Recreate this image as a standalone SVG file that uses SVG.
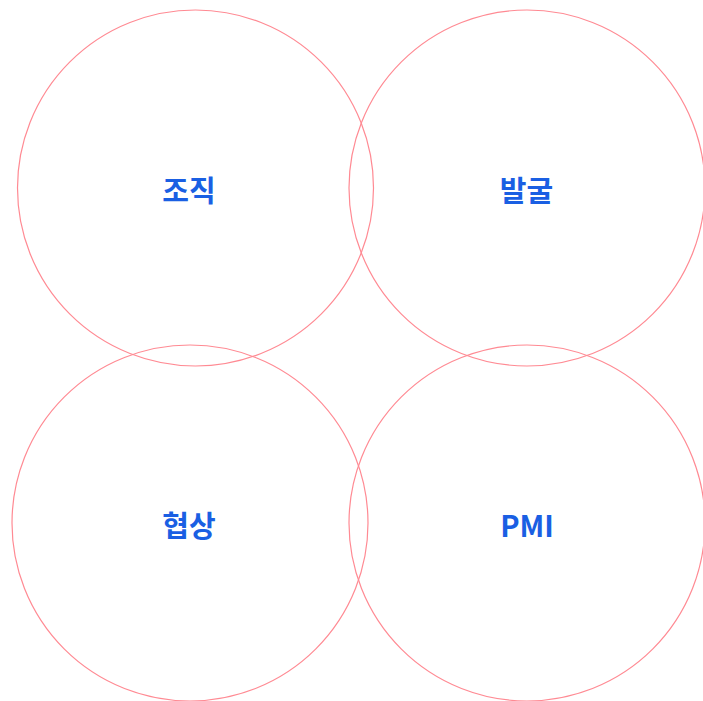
<svg xmlns="http://www.w3.org/2000/svg" width="703" height="701" viewBox="0 0 703 701">
<style>
.c{fill:none;stroke:#ff8a93;stroke-width:1.2}
.t{font-family:"Noto Sans CJK KR","Noto Sans",sans-serif;font-size:29px;font-weight:bold;fill:#1a5fe3;text-anchor:middle}
</style>
<rect width="703" height="701" fill="#fff"/>
<g id="node-org"><circle class="c" cx="195.5" cy="188" r="178"/><text class="t" x="189" y="202">조직</text></g>
<g id="node-discovery"><circle class="c" cx="527" cy="188" r="178"/><text class="t" x="526.5" y="202">발굴</text></g>
<g id="node-negotiation"><circle class="c" cx="190" cy="523" r="178"/><text class="t" x="189" y="537">협상</text></g>
<g id="node-pmi"><circle class="c" cx="527" cy="523" r="178"/><text class="t" x="527" y="537">PMI</text></g>
<g id="connectors"></g>
</svg>
